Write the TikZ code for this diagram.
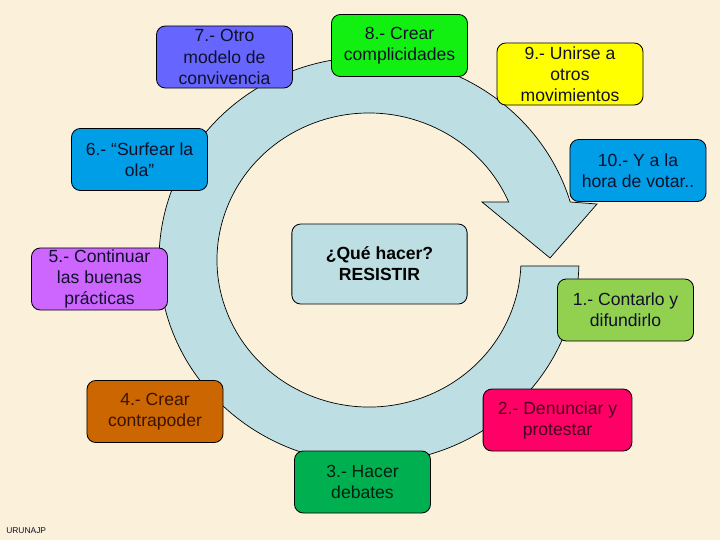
\documentclass[tikz,border=0pt]{standalone}
\usepackage{fontspec}
\setmainfont{Liberation Sans}
\definecolor{PaperClr}{HTML}{FBF0DA}
\definecolor{RingClr}{HTML}{BDDFE3}
\definecolor{TextClr}{HTML}{10102A}
\definecolor{SevenClr}{HTML}{6666FF}
\definecolor{EightClr}{HTML}{11F011}
\definecolor{NineClr}{HTML}{FFFF00}
\definecolor{SixClr}{HTML}{009EE6}
\definecolor{FiveClr}{HTML}{CC66FF}
\definecolor{OneClr}{HTML}{92D050}
\definecolor{FourClr}{HTML}{CC6600}
\definecolor{TwoClr}{HTML}{FF0066}
\definecolor{ThreeClr}{HTML}{00B050}

\tikzset{
  box/.style={draw=black, line width=0.6pt, rounded corners=0.22cm,
    minimum width=3.4cm, minimum height=1.55cm, inner sep=0pt,
    align=center, text=TextClr, font=\fontsize{12.5}{15}\selectfont},
  ring/.style={draw=black, line width=0.5pt, fill=RingClr}
}

\begin{document}
\begin{tikzpicture}[x=0.025cm,y=-0.025cm]
\fill[PaperClr] (0,0) rectangle (720,540);

\coordinate (O) at (369,260);
\draw[ring] (O) ++(1.7:210 and 203)
  arc[start angle=1.7, end angle=343.4, x radius=210, y radius=203]
  -- (597,204) -- (550,258) -- (482,202) -- (508.7,202.1)
  arc[start angle=336.8, end angle=2.3, x radius=152, y radius=147] -- cycle;

\node[box, fill=RingClr, minimum width=4.38cm, minimum height=2cm,
  font=\fontsize{12.5}{15}\selectfont\bfseries, text=black] (what) at (379.5,264) {¿Qué hacer?\\RESISTIR};

\node[box, fill=OneClr] (one) at (625.5,310) {1.- Contarlo y\\difundirlo};
\node[box, fill=TwoClr, minimum width=3.72cm, text={rgb,255:red,74;green,0;blue,32}] (two) at (557.5,420) {2.- Denunciar y\\protestar};
\node[box, fill=ThreeClr, text={rgb,255:red,0;green,32;blue,16}] (three) at (362.5,482) {3.- Hacer\\debates};
\node[box, fill=FourClr, text={rgb,255:red,59;green,19;blue,0}] (four) at (155,411.5) {4.- Crear\\contrapoder};
\node[box, fill=FiveClr] (five) at (99.5,279) {5.- Continuar\\las buenas\\prácticas};
\node[box, fill=SixClr] (six) at (139.5,159.5) {6.- “Surfear la\\ola”};
\node[box, fill=SevenClr] (seven) at (224.5,57) {7.- Otro\\modelo de\\convivencia};
\node[box, fill=EightClr] (eight) at (399.5,45.5) {8.- Crear\\complicidades};
\node[box, fill=NineClr, minimum width=3.65cm] (nine) at (570,74) {9.- Unirse a\\otros\\movimientos};
\node[box, fill=SixClr] (ten) at (638,170.5) {10.- Y a la\\hora de votar..};

\node[anchor=west, inner sep=0pt, text=TextClr, font=\fontsize{6}{7}\selectfont] (sign) at (6,531) {URUNAJP};
\end{tikzpicture}
\end{document}
